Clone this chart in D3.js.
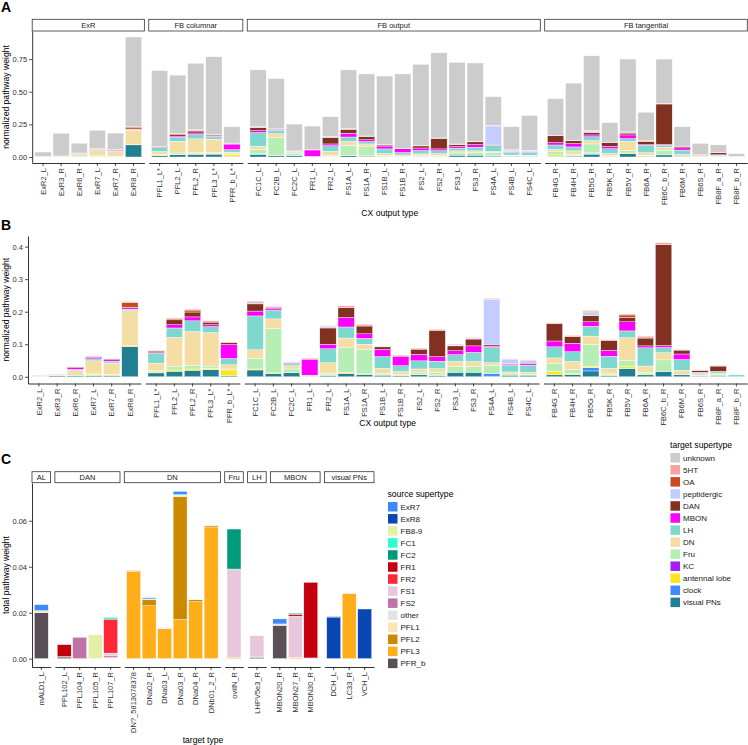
<!DOCTYPE html>
<html><head><meta charset="utf-8">
<script src="https://cdn.jsdelivr.net/npm/d3@7"></script>
<style>body{margin:0;background:#fff;} svg{font-family:"Liberation Sans",Arial,Helvetica,sans-serif;}</style>
</head><body><svg id="c" width="748" height="745"></svg>
<script>
// ---------- Panels A & B data ----------
const cxTypes = ["ExR2_L","ExR3_R","ExR6_R","ExR7_L","ExR7_R","ExR8_R",
  "PFL1_L*","PFL2_L","PFL2_R","PFL3_L*","PFR_b_L*",
  "FC1C_L","FC2B_L","FC2C_L","FR1_L","FR2_L","FS1A_L","FS1A_R","FS1B_L","FS1B_R","FS2_L","FS2_R","FS3_L","FS3_R","FS4A_L","FS4B_L","FS4C_L",
  "FB4G_R","FB4H_R","FB5G_R","FB5K_R","FB5V_R","FB6A_R","FB6C_b_R","FB6M_R","FB6S_R","FB8F_a_R","FB8F_b_R"];
const cxFacet = ["ExR","ExR","ExR","ExR","ExR","ExR",
  "FB columnar","FB columnar","FB columnar","FB columnar","FB columnar",
  "FB output","FB output","FB output","FB output","FB output","FB output","FB output","FB output","FB output","FB output","FB output","FB output","FB output","FB output","FB output","FB output",
  "FB tangential","FB tangential","FB tangential","FB tangential","FB tangential","FB tangential","FB tangential","FB tangential","FB tangential","FB tangential","FB tangential"];
const targetSupertypes = ["unknown","5HT","OA","peptidergic","DAN","MBON","LH","DN","Fru","KC","antennal lobe","clock","visual PNs"];
const targetColors = ["#cccccc","#f6a3a3","#c94a1f","#c3ceff","#82301f","#ff00ff","#7fd8cf","#f5dea3","#b6eeb6","#a41ff0","#ffe61a","#3d8bff","#217f93"];

const wUnknown = [.033,.174,.075,.141,.126,.688, .581,.446,.510,.596,.125, .435,.384,.205,.180,.151,.449,.475,.526,.569,.622,.652,.625,.599,.221,.177,.266, .281,.439,.571,.149,.557,.218,.338,.148,.083,.058,.019];
const w5HT = [.0005,.001,.001,.002,.002,.002, .002,.003,.003,.004,.002, .001,.002,.001,.001,.002,.006,.005,.002,.002,.003,.003,.003,.002,.003,.002,.002, .003,.003,.003,.002,.003,.003,.006,.002,.002,.002,0];
const wOA = [0,0,0,0,0,.015, 0,.003,.006,0,0, .003,0,0,0,0,0,0,0,0,0,0,0,0,0,0,0, 0,0,.003,0,.007,.003,0,0,0,0,0];
const wPeptidergic = [0,0,0,0,0,0, 0,0,0,0,0, .004,0,.003,0,.005,0,0,0,0,0,0,.002,.003,.140,.013,.008, 0,0,.010,0,0,0,0,0,0,0,0];
const wDAN = [0,0,.002,.002,.002,.002, .005,.015,.015,.008,.006, .022,.003,0,.002,.050,.030,.024,.008,.002,.016,.081,.015,.021,.004,.002,.002, .053,.021,.019,.031,.014,.024,.310,.012,.005,.016,0];
const wMBON = [.0005,.0005,.005,.005,.005,.004, .002,.010,.012,.006,.043, .015,.006,.002,.049,.014,.029,.014,.022,.029,.020,.014,.012,.020,.004,.003,.004, .018,.026,.014,.018,.028,.006,.006,.017,.002,.002,0];
const wLH = [0,.0005,.004,.006,.006,.005, .030,.029,.033,.018,.019, .104,.027,.007,0,.043,.034,.018,.036,.018,.025,.023,.021,.028,.047,.020,.022, .034,.030,.030,.037,.021,.056,.016,.033,.003,.005,.006];
const wDN = [.002,.002,.014,.040,.035,.108, .023,.090,.105,.103,.013, .026,.030,.010,0,.032,.030,.017,.015,.010,.012,.012,.016,.015,.009,.006,.006, .018,.025,.025,.016,.069,.019,.022,.014,.004,.004,0];
const wFru = [.001,.001,0,.002,.001,0, .004,.010,.010,.007,.003, .033,.136,.010,.005,.005,.075,.074,.005,.003,.005,.007,.017,.018,.024,.004,.003, .024,.012,.068,.004,.020,.005,.036,0,.003,.004,0];
const wKC = new Array(38).fill(0);
const wAntennalLobe = [0,0,.001,.003,.002,.002, .003,.004,.004,.004,.017, .003,.002,.001,0,.002,.004,.002,.001,0,.001,.002,0,0,0,0,0, .010,.003,.004,.002,.006,.003,0,0,0,0,0];
const wClock = [0,0,0,0,0,0, 0,0,0,0,0, 0,0,0,0,0,0,0,0,0,0,0,0,0,.008,0,0, 0,0,.010,0,0,0,0,0,0,0,0];
const wVisualPNs = [.001,.003,.004,.004,.004,.093, .012,.017,.020,.022,.004, .021,.010,.013,0,.004,.010,.007,.005,.003,.006,.004,.014,.014,.002,.005,.005, .006,.007,.018,.004,.025,.006,.016,.006,.002,.002,0];

const yTicksA = [0, 0.25, 0.5, 0.75];
const yTicksB = [0, 0.1, 0.2, 0.3, 0.4];

// ---------- Panel C data ----------
const outTypes = ["mALD1_L","PPL102_L","PPL104_R","PPL105_R","PPL107_R",
  "DN?_5813078378","DNa02_R","DNa03_L","DNa03_R","DNa04_R","DNb01_2_R",
  "oviIN_R","LHPV5e3_R","MBON20_R","MBON27_R","MBON30_R","DCH_L","LC33_R","VCH_L"];
const outFacet = ["AL","DAN","DAN","DAN","DAN","DN","DN","DN","DN","DN","DN","Fru","LH","MBON","MBON","MBON","visual PNs","visual PNs","visual PNs"];
const sourceSupertypes = ["ExR7","ExR8","FB8-9","FC1","FC2","FR1","FR2","FS1","FS2","other","PFL1","PFL2","PFL3","PFR_b"];
const sourceColors = ["#3d88ff","#0a47b5","#e3f0a6","#2fffd0","#009b7a","#c4000f","#ff2638","#e8c7dc","#c073a6","#e4e4e4","#fee4b3","#cc8a00","#ffae1a","#594f55"];

const cExR7  = [.0026,0,0,0,0, 0,.0005,0,.0014,0,0, 0,0, .0022,0,0, .0003,0,0];
const cExR8  = [0,0,0,0,0, 0,0,0,0,0,0, 0,0, 0,0,0, .0181,0,.0216];
const cFB89  = [0,0,0,.0104,0, 0,0,0,0,0,0, 0,0, 0,0,0, 0,0,0];
const cFC1   = [0,0,0,0,.0008, 0,0,0,.0003,0,0, 0,0, 0,0,0, 0,0,0];
const cFC2   = [0,0,0,0,0, 0,0,0,0,0,0, .0174,0, 0,.0004,0, 0,0,0];
const cFR1   = [0,.0052,0,0,0, 0,0,0,0,0,0, 0,0, 0,.0008,.0329, 0,0,0];
const cFR2   = [0,0,0,0,.0148, 0,0,0,0,0,0, 0,0, 0,0,0, 0,0,0];
const cFS1   = [0,0,0,0,.0012, 0,0,0,0,0,0, .0384,.0090, 0,.0180,.0003, 0,0,0];
const cFS2   = [0,0,.0093,0,.0007, 0,0,0,0,0,0, 0,.0005, 0,0,0, 0,0,0];
const cOther = [0,.0002,0,0,0, 0,0,.0004,0,0,0, 0,0, .0006,0,0, 0,0,0];
const cPFL1  = [.0009,0,0,0,.0005, 0,.0002,0,.0005,0,0, 0,0, 0,0,0, 0,.0003,0];
const cPFL2  = [0,0,0,0,0, .0003,.0028,0,.0536,.0008,.0005, 0,0, 0,0,0, 0,0,0];
const cPFL3  = [0,0,0,0,0, .0380,.0230,.0131,.0170,.0248,.0573, .0006,0, 0,.0005,0, 0,.0283,0];
const cPFRb  = [.0200,.0007,0,0,0, 0,0,0,0,0,0, 0,.0005, .0145,0,0, 0,0,0];

const yTicksC = [0, 0.02, 0.04, 0.06];

// ---------- drawing ----------
const svg = d3.select("#c");
const FONT_TICK = 7.5, FONT_TITLE = 8.6;

const targetSeries = {"unknown":wUnknown,"5HT":w5HT,"OA":wOA,"peptidergic":wPeptidergic,"DAN":wDAN,"MBON":wMBON,
  "LH":wLH,"DN":wDN,"Fru":wFru,"KC":wKC,"antennal lobe":wAntennalLobe,"clock":wClock,"visual PNs":wVisualPNs};
const targetColorMap = Object.fromEntries(targetSupertypes.map((k,i)=>[k,targetColors[i]]));
const sourceSeries = {"ExR7":cExR7,"ExR8":cExR8,"FB8-9":cFB89,"FC1":cFC1,"FC2":cFC2,"FR1":cFR1,"FR2":cFR2,
  "FS1":cFS1,"FS2":cFS2,"other":cOther,"PFL1":cPFL1,"PFL2":cPFL2,"PFL3":cPFL3,"PFR_b":cPFRb};
const sourceColorMap = Object.fromEntries(sourceSupertypes.map((k,i)=>[k,sourceColors[i]]));

function drawPanel(o){
  const g = svg.append("g");
  const facetNames = [...new Set(o.facet)];
  const groups = facetNames.map(n => ({name:n, types:o.types.filter((t,i)=>o.facet[i]===n)}));
  const totalUnits = d3.sum(groups, d=>d.types.length+0.2);
  const unit = (o.x1 - o.x0 - o.gap*(groups.length-1))/totalUnits;
  const rows = o.types.map((t,i)=>{const r={type:t}; o.keys.forEach(k=>r[k]=o.series[k][i]); return r;});
  const stacked = d3.stack().keys(o.keys)(rows);
  const totals = rows.map(r=>d3.sum(o.keys,k=>r[k]));
  const maxV = d3.max(totals), pad = maxV*0.05;
  const y = d3.scaleLinear().domain([-pad, maxV+pad]).range([o.yBottom, o.yTop]);
  let fx = o.x0;
  const xOf = {};
  groups.forEach(gr=>{
    const w = (gr.types.length+0.2)*unit;
    gr.x = d3.scaleBand().domain(gr.types).range([fx, fx+w]).paddingInner(0.1).paddingOuter(0.15);
    gr.fx = fx; gr.w = w;
    gr.types.forEach(t=>xOf[t]=gr.x);
    fx += w + o.gap;
  });
  stacked.forEach(layer=>{
    const key = layer.key;
    g.append("g").selectAll("rect").data(layer.filter(d=>d[1]-d[0]>0)).join("rect")
      .attr("x", d=>xOf[d.data.type](d.data.type))
      .attr("width", d=>xOf[d.data.type].bandwidth())
      .attr("y", d=>y(d[1]))
      .attr("height", d=>Math.max(0, y(d[0])-y(d[1])))
      .attr("fill", o.colors[key])
      .attr("stroke","#fff").attr("stroke-width",0.4);
  });
  // y axis
  const ya = g.append("g").attr("transform",`translate(${o.x0},0)`)
    .call(d3.axisLeft(y).tickValues(o.yTicks).tickFormat(o.fmt).tickSize(3).tickPadding(2).tickSizeOuter(0));
  styleAxis(ya);
  // x axes per facet
  groups.forEach(gr=>{
    const xa = g.append("g").attr("transform",`translate(0,${o.yBottom})`)
      .call(d3.axisBottom(gr.x).tickSize(3).tickSizeOuter(0));
    styleAxis(xa);
    xa.selectAll(".tick text").attr("transform","rotate(-90)").attr("x",-5).attr("y",0)
      .attr("dy","0.35em").attr("text-anchor","end");
    if (o.stripTop !== undefined){
      g.append("rect").attr("x",gr.fx).attr("y",o.stripTop).attr("width",gr.w).attr("height",o.stripH)
        .attr("fill","#fff").attr("stroke","#333").attr("stroke-width",0.8);
      g.append("text").attr("x",gr.fx+gr.w/2).attr("y",o.stripTop+o.stripH/2).attr("dy","0.35em")
        .attr("text-anchor","middle").attr("font-size",FONT_TICK).attr("fill","#1a1a1a").text(gr.name);
    }
  });
  // titles
  g.append("text").attr("transform",`translate(${o.yTitleX},${(o.yTop+o.yBottom)/2}) rotate(-90)`)
    .attr("text-anchor","middle").attr("dy","0.35em").attr("font-size",FONT_TITLE).attr("fill","#000").text(o.yTitle);
  g.append("text").attr("x",(o.x0+o.x1)/2).attr("y",o.xTitleY).attr("dy","0.35em")
    .attr("text-anchor","middle").attr("font-size",FONT_TITLE).attr("fill","#000").text(o.xTitle);
}

function styleAxis(a){
  a.attr("font-family",null).attr("font-size",null);
  a.selectAll(".domain").attr("stroke","#000").attr("stroke-width",0.8);
  a.selectAll(".tick line").attr("stroke","#000").attr("stroke-width",0.7);
  a.selectAll(".tick text").attr("font-size",FONT_TICK).attr("fill","#303030");
}

function drawLegend(x, y, title, names, colorMap){
  const g = svg.append("g");
  g.append("text").attr("x",x).attr("y",y).attr("font-size",FONT_TITLE).attr("fill","#000").text(title);
  names.forEach((n,i)=>{
    const yy = y + 5 + i*12.05;
    g.append("rect").attr("x",x+0.5).attr("y",yy).attr("width",9.5).attr("height",9.5).attr("fill",colorMap[n]);
    g.append("text").attr("x",x+13).attr("y",yy+4.9).attr("dy","0.35em").attr("font-size",8).attr("fill","#1a1a1a").text(n);
  });
}

const keysA = targetSupertypes.slice().reverse();
const keysB = targetSupertypes.filter(k=>k!=="unknown").reverse();

drawPanel({types:cxTypes, facet:cxFacet, keys:keysA, series:targetSeries, colors:targetColorMap,
  x0:32.2, x1:747.3, gap:4.4, yTop:31, yBottom:163, yTicks:yTicksA, fmt:d3.format(".2f"),
  stripTop:19.3, stripH:11.7, yTitle:"normalized pathway weight", yTitleX:5.5,
  xTitle:"CX output type", xTitleY:213});

drawPanel({types:cxTypes, facet:cxFacet, keys:keysB, series:targetSeries, colors:targetColorMap,
  x0:28, x1:747.3, gap:4.4, yTop:236, yBottom:383.5, yTicks:yTicksB, fmt:d3.format(".1f"),
  yTitle:"normalized pathway weight", yTitleX:5.5,
  xTitle:"CX output type", xTitleY:423});

drawPanel({types:outTypes, facet:outFacet, keys:sourceSupertypes.slice().reverse(), series:sourceSeries, colors:sourceColorMap,
  x0:32, x1:374, gap:4.3, yTop:483, yBottom:667, yTicks:yTicksC, fmt:d3.format(".2f"),
  stripTop:471.7, stripH:11, yTitle:"total pathway weight", yTitleX:5.5,
  xTitle:"target type", xTitleY:740});

drawLegend(670, 448, "target supertype", targetSupertypes, targetColorMap);
drawLegend(387.5, 497, "source supertype", sourceSupertypes, sourceColorMap);

[["A",12],["B",230],["C",464]].forEach(([t,yy])=>{
  svg.append("text").attr("x",1).attr("y",yy).attr("font-size",14).attr("font-weight","bold").attr("fill","#000").text(t);
});
</script></body></html>
